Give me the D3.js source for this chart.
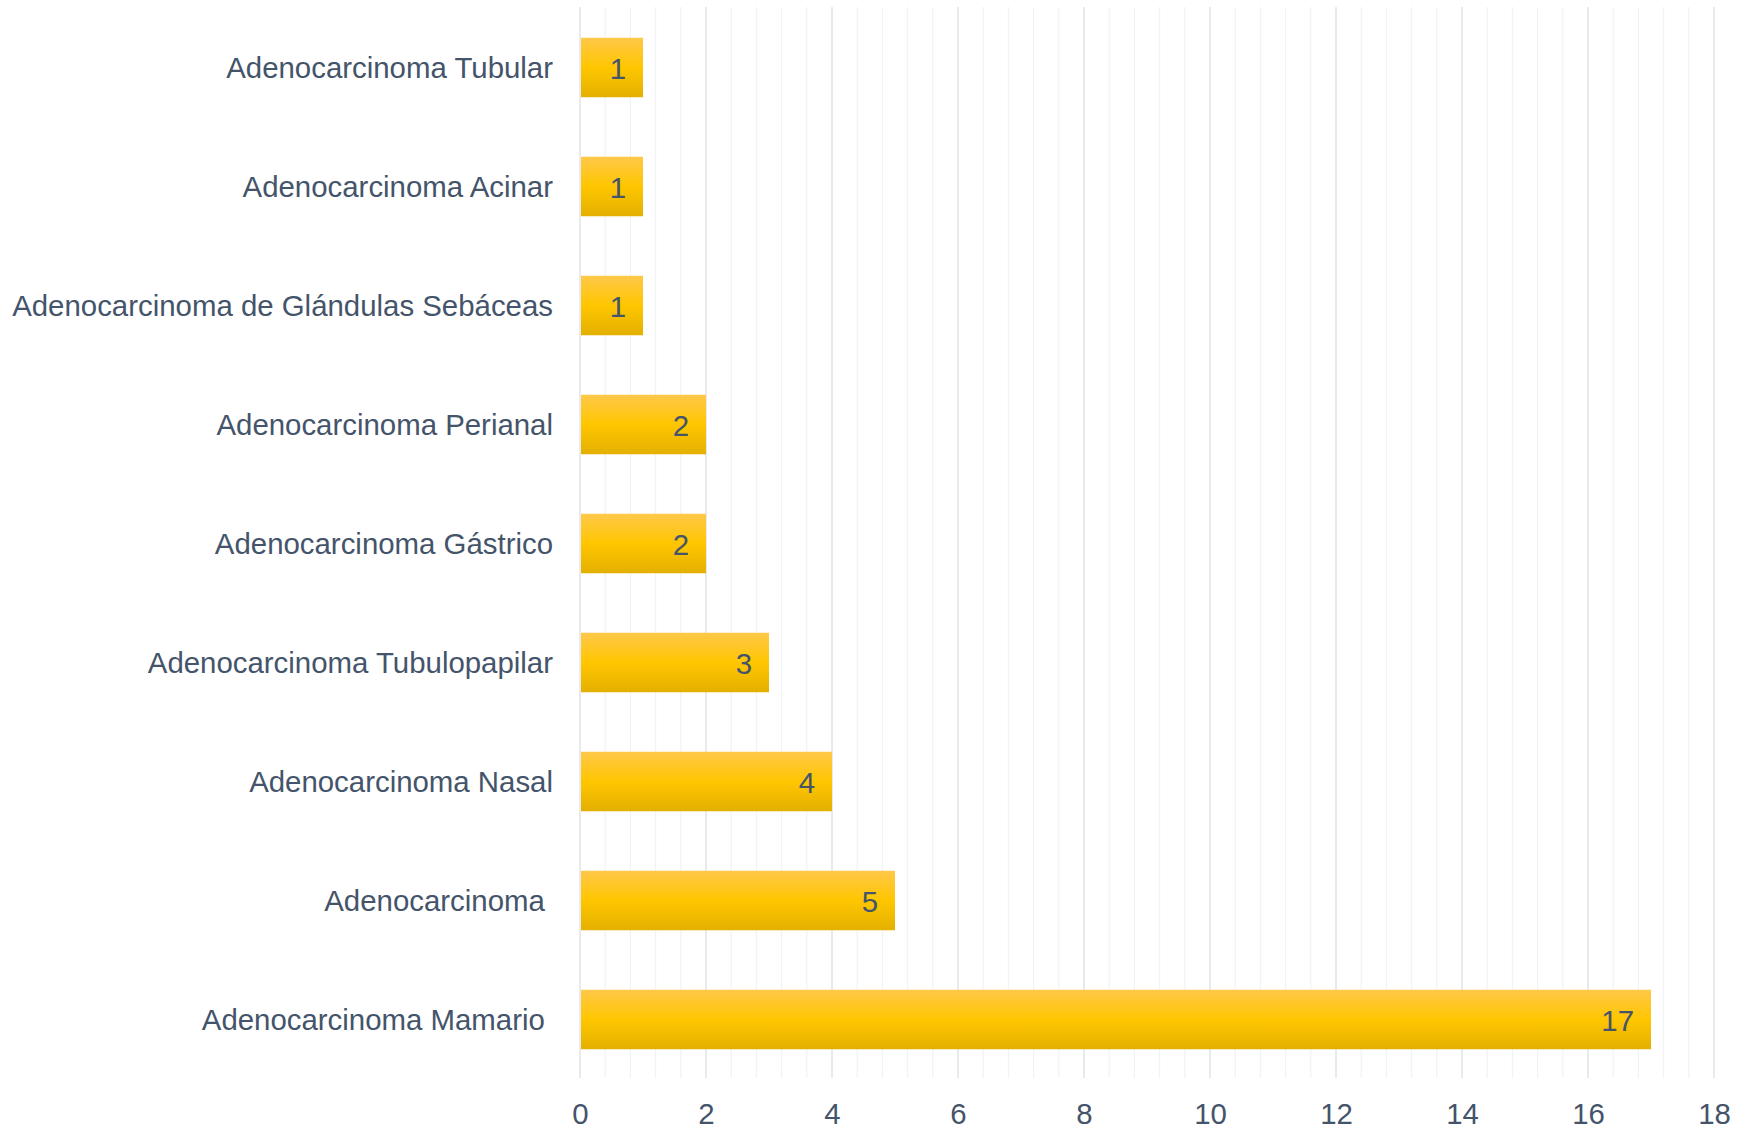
<!DOCTYPE html>
<html><head><meta charset="utf-8">
<script src="https://cdn.jsdelivr.net/npm/d3@7"></script>
<style>body{margin:0;background:#fff}svg{display:block}text{font-family:"Liberation Sans",Arial,sans-serif;white-space:pre}</style>
</head><body><svg id="c" width="1739" height="1129"></svg>
<script>
const categories = ["Adenocarcinoma Tubular","Adenocarcinoma Acinar","Adenocarcinoma de Glándulas Sebáceas","Adenocarcinoma Perianal","Adenocarcinoma Gástrico","Adenocarcinoma Tubulopapilar","Adenocarcinoma Nasal","Adenocarcinoma ","Adenocarcinoma Mamario "];
const values = [1,1,1,2,2,3,4,5,17];
const xTicks = [0,2,4,6,8,10,12,14,16,18];

(function(){
const svg = d3.select("#c");
const mLeft = 580, mRight = 1714, mTop = 7, mBottom = 1078;
const fs = "29.4px";
const x = d3.scaleLinear().domain([0,18]).range([mLeft,mRight]);
const y = d3.scaleBand().domain(categories).range([mTop + 1,mBottom + 1]).paddingInner(0.5).paddingOuter(0.25);
const textColor = "#44546a";

const defs = svg.append("defs");
const g = defs.append("linearGradient").attr("id","gold").attr("x1",0).attr("y1",0).attr("x2",0).attr("y2",1);
g.append("stop").attr("offset","0%").attr("stop-color","#ffc849");
g.append("stop").attr("offset","50%").attr("stop-color","#ffc600");
g.append("stop").attr("offset","100%").attr("stop-color","#e3b000");

// minor grid
const minor = d3.range(0,18.001,0.4).filter(v => Math.abs(v/2 - Math.round(v/2)) > 1e-6);
svg.append("g").selectAll("line").data(minor).join("line")
  .attr("x1",d=>x(d)).attr("x2",d=>x(d)).attr("y1",mTop).attr("y2",mBottom)
  .attr("stroke","#f1f2f5").attr("stroke-width",1.2);
// major grid
svg.append("g").selectAll("line").data(xTicks).join("line")
  .attr("x1",d=>x(d)).attr("x2",d=>x(d)).attr("y1",mTop).attr("y2",mBottom)
  .attr("stroke","#dfe3ea").attr("stroke-width",1.5);

// x axis labels
const xAxis = d3.axisBottom(x).tickValues(xTicks).tickSize(0).tickPadding(0);
const ax = svg.append("g").attr("transform",`translate(0,${mBottom})`).call(xAxis);
ax.select(".domain").remove();
ax.selectAll("text").attr("y",36).attr("dy","0.35em").attr("fill",textColor)
  .style("font-size",fs).style("font-family","'Liberation Sans',Arial,sans-serif");

// y labels
const yAxis = d3.axisLeft(y).tickSize(0).tickPadding(27);
const ay = svg.append("g").attr("transform",`translate(${mLeft},0)`).call(yAxis);
ay.select(".domain").remove();
ay.selectAll("text").attr("fill",textColor).attr("dy","0.35em")
  .style("font-size",fs).style("font-family","'Liberation Sans',Arial,sans-serif");

// bars
svg.append("g").selectAll("rect").data(values).join("rect")
  .attr("x",x(0)+1).attr("y",(d,i)=>y(categories[i]))
  .attr("width",d=>x(d)-x(0)-1).attr("height",y.bandwidth())
  .attr("fill","url(#gold)");

// value labels
svg.append("g").selectAll("text").data(values).join("text")
  .attr("x",d=>x(d)-17).attr("y",(d,i)=>y(categories[i])+y.bandwidth()/2)
  .attr("dy","0.38em").attr("text-anchor","end").attr("fill",textColor)
  .style("font-size",fs).text(d=>d);
})();
</script></body></html>
